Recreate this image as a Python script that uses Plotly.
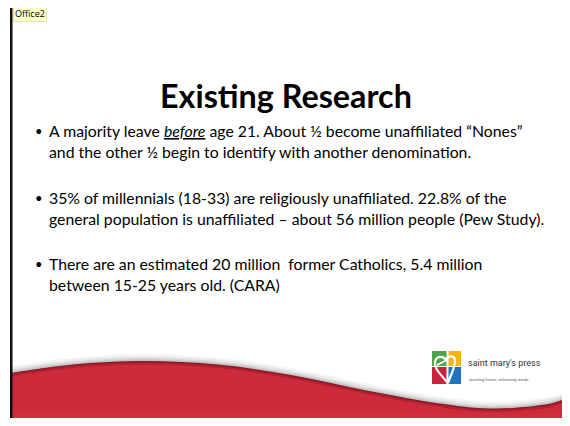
import plotly.graph_objects as go

# ---- slide content (data) ----
TAG_LABEL = "Office2"
TITLE = "Existing Research"
BULLETS = [
    ["A majority leave <i><u>before</u></i> age 21. About ½ become unaffiliated “Nones”",
     "and the other ½ begin to identify with another denomination."],
    ["35% of millennials (18-33) are religiously unaffiliated. 22.8% of the",
     "general population is unaffiliated – about 56 million people (Pew Study)."],
    ["There are an estimated 20 million  former Catholics, 5.4 million",
     "between 15-25 years old. (CARA)"],
]
BRAND_NAME = "saint mary's press"
BRAND_TAGLINE = "touching hearts. enlivening minds."

# ---- layout geometry (page pixel space; the page body has an 8px margin) ----
PAGE_W, PAGE_H, BODY_MARGIN = 570, 426, 8
W, H = PAGE_W - 2 * BODY_MARGIN, PAGE_H - 2 * BODY_MARGIN
BULLET_Y = [(133, 149), (200, 216), (266, 282)]
WAVE_PTS = [(11, 373), (73, 364.5), (145, 361), (218, 364.5), (291, 375),
            (364, 390), (436, 403), (491, 408.5), (545, 404.5), (572, 396)]

FONT = "Lato, 'Open Sans', sans-serif"
BODY_SIZE = 15.8
LINE_GAP = 1.3 * BODY_SIZE  # plotly's line spacing for <br>


def wave_path(dy=0.0, bottom=423):
    pts = [(x, y + dy) for x, y in WAVE_PTS]
    ext = [pts[0]] + pts + [pts[-1]]
    d = f"M {pts[0][0]},{pts[0][1]}"
    for i in range(1, len(ext) - 2):
        p0, p1, p2, p3 = ext[i - 1], ext[i], ext[i + 1], ext[i + 2]
        c1 = (p1[0] + (p2[0] - p0[0]) / 6, p1[1] + (p2[1] - p0[1]) / 6)
        c2 = (p2[0] - (p3[0] - p1[0]) / 6, p2[1] - (p3[1] - p1[1]) / 6)
        d += f" C {c1[0]:.1f},{c1[1]:.1f} {c2[0]:.1f},{c2[1]:.1f} {p2[0]:.1f},{p2[1]:.1f}"
    d += f" L {pts[-1][0]},{bottom} L {pts[0][0]},{bottom} Z"
    return d


fig = go.Figure()
fig.add_trace(go.Scatter(x=[BODY_MARGIN, BODY_MARGIN + W], y=[BODY_MARGIN, BODY_MARGIN + H],
                         mode="markers", marker=dict(opacity=0), hoverinfo="skip",
                         showlegend=False))

shapes = []
# soft shadow above the wave
for k, a in [(7, 0.04), (5, 0.05), (3, 0.07), (1.5, 0.09)]:
    shapes.append(dict(type="path", path=wave_path(-k), fillcolor=f"rgba(0,0,0,{a})",
                       line=dict(width=0), layer="below"))
# dark red rim and main red body
shapes.append(dict(type="path", path=wave_path(0), fillcolor="#8c1a24",
                   line=dict(width=0), layer="below"))
shapes.append(dict(type="path", path=wave_path(1.5), fillcolor="#b3202f",
                   line=dict(width=0), layer="below"))
shapes.append(dict(type="path", path=wave_path(3.5), fillcolor="#cd2a3b",
                   line=dict(width=0), layer="below"))
# lighter band at the bottom
for i, c in enumerate(["#ce2d3b", "#d0323b", "#d2373b", "#d43c3a"]):
    shapes.append(dict(type="rect", x0=11, x1=PAGE_W, y0=413 + i * 2.5, y1=423,
                       fillcolor=c, line=dict(width=0), layer="below"))

# black slide frame
shapes += [
    dict(type="rect", x0=10, x1=PAGE_W, y0=4, y1=6.5, fillcolor="#000", line=dict(width=0)),
    dict(type="rect", x0=10, x1=12.5, y0=4, y1=PAGE_H, fillcolor="#111", line=dict(width=0)),
    dict(type="rect", x0=10, x1=PAGE_W, y0=423, y1=PAGE_H, fillcolor="#000", line=dict(width=0)),
]

# logo squares
LX0, LX1, LXM, LY0, LY1, LYM = 432, 461, 447.5, 351, 384, 366
shapes += [
    dict(type="rect", x0=LX0, x1=LXM - 1, y0=LY0, y1=LYM, fillcolor="#4da548", line=dict(width=0)),
    dict(type="rect", x0=LXM + 1, x1=LX1, y0=LY0, y1=LYM, fillcolor="#f5b21c", line=dict(width=0)),
    dict(type="rect", x0=LX0, x1=LXM - 1, y0=LYM + 1, y1=LY1, fillcolor="#c8233b", line=dict(width=0)),
    dict(type="rect", x0=LXM + 1, x1=LX1, y0=LYM + 1, y1=LY1, fillcolor="#1d74bb", line=dict(width=0)),
    dict(type="path",
         path="M 448,383 C 440,374 434,368 435,362 C 436,356 443,355 446,360 "
              "C 448,355 455,355 455,361 C 455,368 451,374 448,383",
         line=dict(color="white", width=2.2), fillcolor="rgba(0,0,0,0)"),
    dict(type="path", path="M 437,365 L 447,360", line=dict(color="white", width=1.6)),
]
fig.update_layout(shapes=shapes)

ann = []
ann.append(dict(x=12.5, y=13, text=TAG_LABEL, showarrow=False, xanchor="left", yanchor="middle",
                font=dict(family="'Open Sans', sans-serif", size=9, color="#000"),
                bgcolor="#ffffcc", bordercolor="#e6e2a8", borderwidth=1, borderpad=1))
ann.append(dict(x=286, y=95, text=f"<b>{TITLE}</b>", showarrow=False, xanchor="center",
                yanchor="middle", font=dict(family=FONT, size=32.3, color="#000")))
for lines, ys in zip(BULLETS, BULLET_Y):
    mid = sum(ys) / len(ys)
    first_line_y = mid - LINE_GAP * (len(lines) - 1) / 2
    ann.append(dict(x=33, y=first_line_y, text="•", showarrow=False, xanchor="left",
                    yanchor="middle", font=dict(family=FONT, size=13, color="#000")))
    ann.append(dict(x=47, y=mid, text="<br>".join(lines), showarrow=False, xanchor="left",
                    yanchor="middle", align="left",
                    font=dict(family=FONT, size=BODY_SIZE, color="#000")))
ann.append(dict(x=466, y=363, text=BRAND_NAME, showarrow=False, xanchor="left", yanchor="middle",
                font=dict(family="'Liberation Sans Narrow', 'Roboto', sans-serif", size=9,
                          color="#333")))
ann.append(dict(x=467, y=379, text=BRAND_TAGLINE, showarrow=False, xanchor="left",
                yanchor="middle",
                font=dict(family="'Liberation Sans Narrow', sans-serif", size=4, color="#555")))
fig.update_layout(annotations=ann)

fig.update_layout(
    width=W, height=H, margin=dict(l=0, r=0, t=0, b=0),
    paper_bgcolor="white", plot_bgcolor="white",
    xaxis=dict(range=[BODY_MARGIN, BODY_MARGIN + W], visible=False, fixedrange=True),
    yaxis=dict(range=[BODY_MARGIN + H, BODY_MARGIN], visible=False, fixedrange=True),
    showlegend=False,
)
fig.write_html("out.html")
